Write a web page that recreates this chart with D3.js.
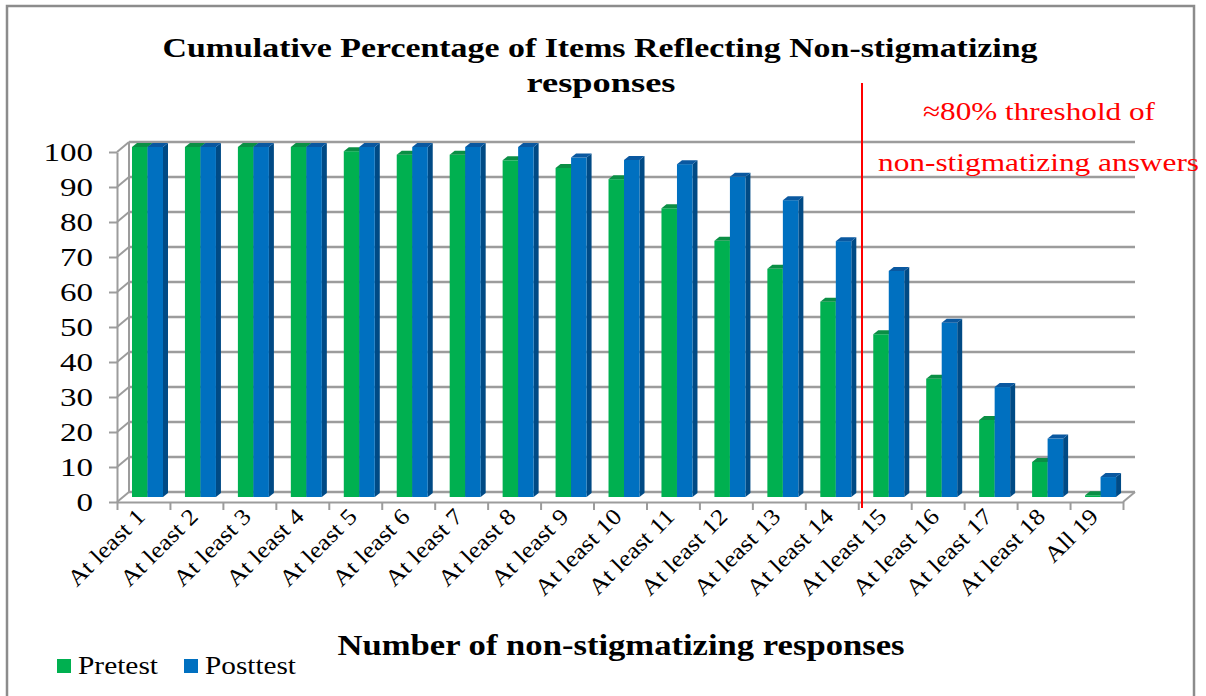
<!DOCTYPE html>
<html><head><meta charset="utf-8">
<script src="https://cdn.jsdelivr.net/npm/d3@7"></script>
<style>body{margin:0;background:#fff}svg{display:block}text{font-family:"Liberation Serif","DejaVu Serif",serif}</style>
</head><body>
<svg id="c" width="1206" height="696"></svg>
<script>
const categories = ["At least 1","At least 2","At least 3","At least 4","At least 5","At least 6","At least 7","At least 8","At least 9","At least 10","At least 11","At least 12","At least 13","At least 14","At least 15","At least 16","At least 17","At least 18","All 19"];
const pretest  = [100,100,100,100,98.8,97.8,97.8,96.2,94,90.8,82.5,73.2,65.2,55.8,46.5,33.8,22,10,0.5];
const posttest = [100,100,100,100,100,100,100,100,97,96.3,95.1,91.5,84.8,73.1,64.6,49.8,31.4,16.7,5.7];
const seriesNames = ["Pretest","Posttest"];
const yTicks = [0,10,20,30,40,50,60,70,80,90,100];

const svg = d3.select("#c");
const green = "#00B050", blue = "#0070C0";
const faces = {
  Pretest: {front: green, top: "#0a8f45", side: "#007a37"},
  Posttest:{front: blue,  top: "#0a58a0", side: "#004a85"}
};
const grid = "#9c9c9c";
const FF = '"Liberation Serif","DejaVu Serif",serif';

function stretch(sel, factor){
  sel.each(function(){
    const L = this.getComputedTextLength();
    d3.select(this).attr("textLength", L*factor).attr("lengthAdjust","spacingAndGlyphs");
  });
}

// border
svg.append("rect").attr("x",7).attr("y",6).attr("width",1187).attr("height",700)
  .attr("fill","#fff").attr("stroke","#8c8c8c").attr("stroke-width",2.5);

// geometry
const x0 = 117, x1 = 1123;
const DX = 12, DY = -10;
const yF = d3.scaleLinear().domain([0,100]).range([502,152]);
const yB = v => yF(v) + DY;
const xBand = d3.scaleBand().domain(categories).range([x0,x1]).padding(0);
const xs = d3.scaleBand().domain(seriesNames).range([0,31]).padding(0);
const yBar = d3.scaleLinear().domain([0,100]).range([497,147]);
const barOff = 15, bdx = 5, bdy = -4;

// walls / gridlines
const g = svg.append("g");
yTicks.forEach(v=>{
  g.append("line").attr("x1",x0+DX).attr("x2",x1+DX).attr("y1",yB(v)).attr("y2",yB(v))
    .attr("stroke",grid).attr("stroke-width",2.5);
  g.append("line").attr("x1",x0).attr("x2",x0+DX).attr("y1",yF(v)).attr("y2",yB(v))
    .attr("stroke",grid).attr("stroke-width",2);
});
g.append("line").attr("x1",x0+DX).attr("x2",x0+DX).attr("y1",yB(0)).attr("y2",yB(100)).attr("stroke",grid).attr("stroke-width",2);
g.append("line").attr("x1",x1).attr("x2",x1+DX).attr("y1",yF(0)).attr("y2",yB(0)).attr("stroke",grid).attr("stroke-width",2);

// y axis
const yAxis = d3.axisLeft(yF).tickValues(yTicks).tickSize(8).tickPadding(16).tickSizeOuter(0);
const ya = svg.append("g").attr("transform",`translate(${x0},0)`).call(yAxis).attr("font-family",null).attr("font-size",null);
ya.select(".domain").attr("stroke",grid).attr("stroke-width",2);
ya.selectAll(".tick line").attr("stroke",grid).attr("stroke-width",2);
ya.selectAll(".tick text").style("font-family",FF).style("font-size","26px").attr("fill","#000");
ya.selectAll(".tick text").each(function(d){
  d3.select(this).attr("textLength", String(d).length*16.5).attr("lengthAdjust","spacingAndGlyphs");
});

// x axis (front floor edge), ticks at band boundaries
const xEdges = d3.scaleLinear().domain([0,categories.length]).range([x0,x1]);
const xAxis = d3.axisBottom(xEdges).tickValues(d3.range(categories.length+1)).tickFormat("").tickSize(8).tickSizeOuter(0);
const xa = svg.append("g").attr("transform",`translate(0,${yF(0)})`).call(xAxis);
xa.select(".domain").attr("stroke",grid).attr("stroke-width",2);
xa.selectAll(".tick line").attr("stroke",grid).attr("stroke-width",2);

// bars
const data = categories.map((c,i)=>({c, vals:[{s:"Pretest",v:pretest[i]},{s:"Posttest",v:posttest[i]}]}));
const bars = svg.append("g");
data.forEach(d=>{
  d.vals.forEach(p=>{
    const w = xs.bandwidth();
    const x = xBand(d.c) + barOff + xs(p.s);
    const yt = yBar(p.v), yb = yBar(0);
    const f = faces[p.s];
    bars.append("path").attr("fill",f.side)
      .attr("d",`M${x+w},${yt}L${x+w+bdx},${yt+bdy}L${x+w+bdx},${yb+bdy}L${x+w},${yb}Z`);
    bars.append("rect").attr("x",x).attr("y",yt).attr("width",w).attr("height",Math.max(0,yb-yt)).attr("fill",f.front);
    bars.append("path").attr("fill",f.top)
      .attr("d",`M${x},${yt}L${x+bdx},${yt+bdy}L${x+w+bdx},${yt+bdy}L${x+w},${yt}Z`);
  });
});

// category labels
const cl = svg.append("g").selectAll("text").data(categories).join("text")
  .attr("transform",d=>`translate(${xBand(d)+xBand.bandwidth()/2+3},${518}) rotate(-45)`)
  .attr("text-anchor","end").style("font-size","23px").attr("fill","#000").text(d=>d);
stretch(cl, 1.12);

// threshold line + annotation
svg.append("line").attr("x1",862).attr("x2",862).attr("y1",83).attr("y2",508).attr("stroke","#ff0000").attr("stroke-width",2);
svg.append("text").attr("x",1039).attr("y",120).attr("text-anchor","middle").attr("font-size",26).attr("fill","#ff0000")
  .attr("textLength",232).attr("lengthAdjust","spacingAndGlyphs").text("≈80% threshold of");
svg.append("text").attr("x",878).attr("y",171).attr("font-size",26).attr("fill","#ff0000")
  .attr("textLength",321).attr("lengthAdjust","spacingAndGlyphs").text("non-stigmatizing answers");

// title
svg.append("text").attr("x",600).attr("y",57).attr("text-anchor","middle").attr("font-size",28).attr("font-weight","bold")
  .attr("textLength",875).attr("lengthAdjust","spacingAndGlyphs").text("Cumulative Percentage of Items Reflecting Non-stigmatizing");
svg.append("text").attr("x",601).attr("y",92).attr("text-anchor","middle").attr("font-size",28).attr("font-weight","bold")
  .attr("textLength",149).attr("lengthAdjust","spacingAndGlyphs").text("responses");

// axis title
svg.append("text").attr("x",621).attr("y",655).attr("text-anchor","middle").attr("font-size",29).attr("font-weight","bold")
  .attr("textLength",567).attr("lengthAdjust","spacingAndGlyphs").text("Number of non-stigmatizing responses");

// legend
const leg = svg.append("g");
const legItems = [{s:"Pretest",x:57,tx:78,w:80,color:green},{s:"Posttest",x:184,tx:205,w:91,color:blue}];
legItems.forEach(l=>{
  leg.append("rect").attr("x",l.x).attr("y",659).attr("width",14).attr("height",14).attr("fill",l.color);
  leg.append("text").attr("x",l.tx).attr("y",674).attr("font-size",25).attr("fill","#000")
    .attr("textLength",l.w).attr("lengthAdjust","spacingAndGlyphs").text(l.s);
});
</script>
</body></html>
